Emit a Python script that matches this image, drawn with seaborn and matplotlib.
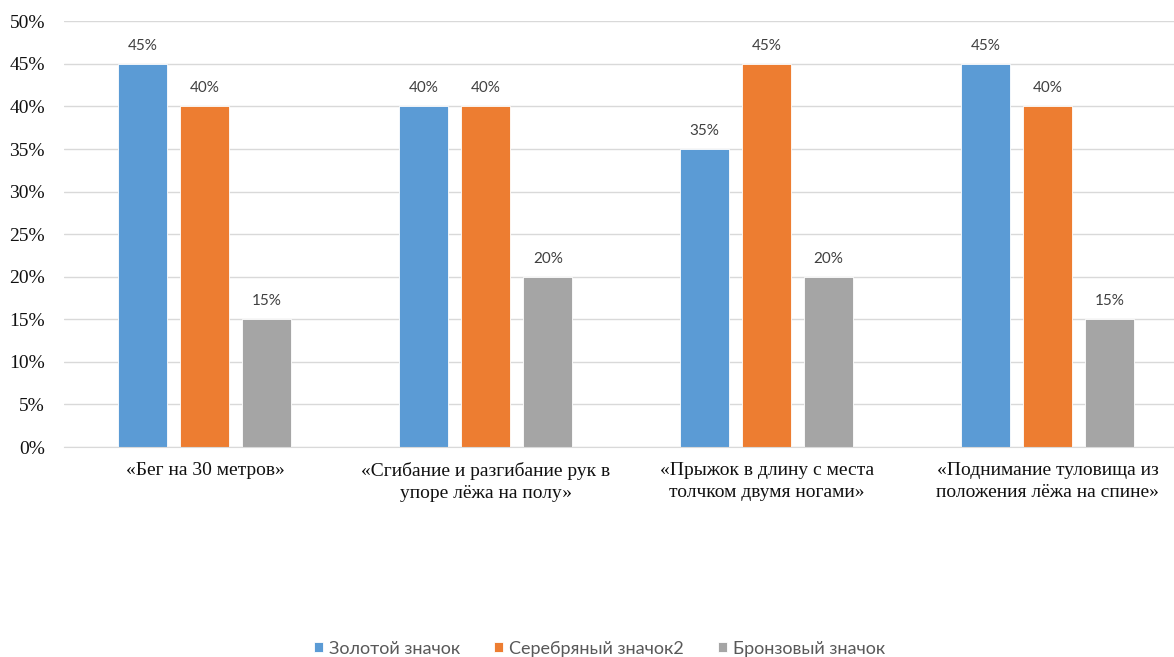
import pandas as pd
import seaborn as sns
import matplotlib.pyplot as plt
from matplotlib.ticker import PercentFormatter, MultipleLocator

categories = [
    "«Бег на 30 метров»",
    "«Сгибание и разгибание рук в\nупоре лёжа на полу»",
    "«Прыжок в длину с места\nтолчком двумя ногами»",
    "«Поднимание туловища из\nположения лёжа на спине»",
]
series = ["Золотой значок", "Серебряный значок2", "Бронзовый значок"]
gold = [45, 40, 35, 45]
silver = [40, 40, 45, 40]
bronze = [15, 20, 20, 15]
colors = ["#5B9BD5", "#ED7D31", "#A5A5A5"]

# long table for seaborn
rows = []
for name, vals in zip(series, [gold, silver, bronze]):
    for cat, v in zip(categories, vals):
        rows.append({"cat": cat, "series": name, "value": v})
df = pd.DataFrame(rows)

sns.set_style("white")
serif = ["Liberation Serif", "DejaVu Serif"]
sans = ["Lato", "DejaVu Sans"]

fig = plt.figure(figsize=(11.74, 6.57), dpi=100)
# plot area runs a bit past the right edge, like the original
ax = fig.add_axes([0.0549, 0.3196, 0.957, 0.648])

sns.barplot(data=df, x="cat", y="value", hue="series", palette=colors,
            width=0.663, gap=0.21, order=categories, hue_order=series,
            edgecolor="white", linewidth=0.6, saturation=1, ax=ax)

for cont in ax.containers:
    ax.bar_label(cont, labels=[f"{v:.0f}%" for v in cont.datavalues],
                 padding=8, fontsize=11, family=sans, color="#404040")

ax.set_ylim(0, 50)
ax.yaxis.set_major_locator(MultipleLocator(5))
ax.yaxis.set_major_formatter(PercentFormatter(decimals=0))
ax.set_xlim(-0.5, 3.5)
ax.grid(axis="y", color="#D9D9D9", linewidth=1)
ax.set_axisbelow(True)
for s in ["left", "right", "top"]:
    ax.spines[s].set_visible(False)
ax.spines["bottom"].set_color("#D9D9D9")
ax.tick_params(axis="both", length=0)
ax.tick_params(axis="x", pad=11)
ax.tick_params(axis="y", pad=14)
ax.set_xlabel("")
ax.set_ylabel("")
for lab in ax.get_yticklabels() + ax.get_xticklabels():
    lab.set_fontfamily(serif)
    lab.set_fontsize(14)
    lab.set_color("#111111")
    lab.set_linespacing(1.35)

handles, labels = ax.get_legend_handles_labels()
ax.get_legend().remove()
fig.legend(handles, labels, loc="lower center", bbox_to_anchor=(0.5106, -0.024),
           ncol=3, frameon=False, handlelength=0.5, handleheight=0.5,
           columnspacing=1.9, handletextpad=0.33,
           prop={"family": sans, "size": 13}, labelcolor="#595959")

fig.savefig("out.png", dpi=100)
